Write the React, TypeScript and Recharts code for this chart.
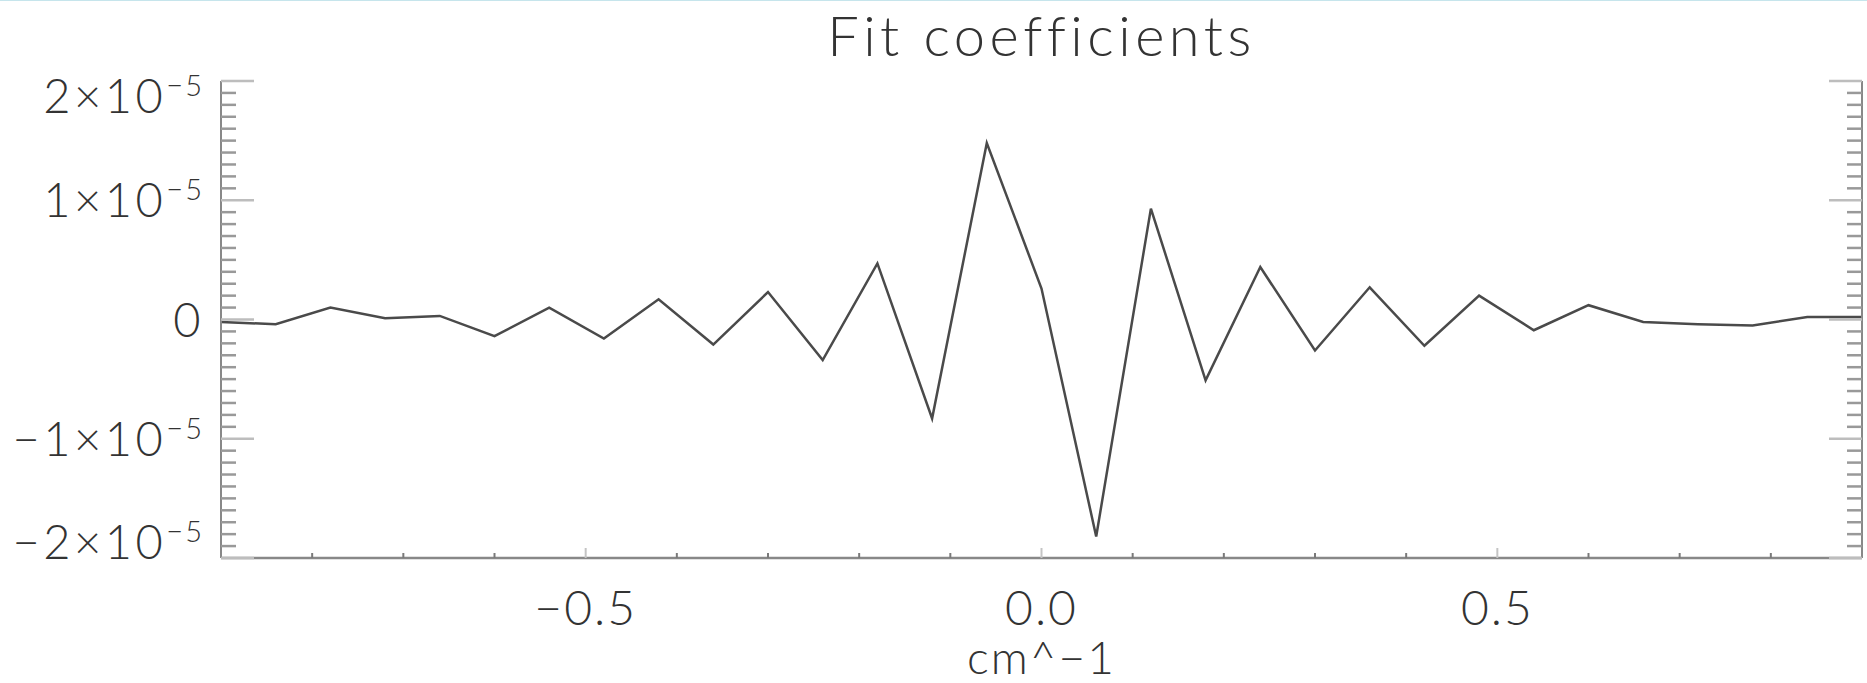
import { LineChart, Line, XAxis, YAxis } from "recharts";

const wavenumbers = [
  -0.9, -0.84, -0.78, -0.72, -0.66, -0.6, -0.54, -0.48, -0.42, -0.36, -0.3, -0.24, -0.18, -0.12, -0.06, 0,
  0.06, 0.12, 0.18, 0.24, 0.3, 0.36, 0.42, 0.48, 0.54, 0.6, 0.66, 0.72, 0.78, 0.84, 0.9,
];
const coefficients = [
  -0.02e-5, -0.04e-5, 0.1e-5, 0.01e-5, 0.03e-5, -0.14e-5, 0.1e-5, -0.16e-5, 0.17e-5, -0.21e-5, 0.23e-5,
  -0.34e-5, 0.47e-5, -0.83e-5, 1.48e-5, 0.26e-5, -1.82e-5, 0.93e-5, -0.51e-5, 0.44e-5, -0.26e-5, 0.27e-5,
  -0.22e-5, 0.2e-5, -0.09e-5, 0.12e-5, -0.02e-5, -0.04e-5, -0.05e-5, 0.02e-5, 0.02e-5,
];

const xTicks = [-0.8, -0.7, -0.6, -0.5, -0.4, -0.3, -0.2, -0.1, 0, 0.1, 0.2, 0.3, 0.4, 0.5, 0.6, 0.7, 0.8];
const xMajorTicks = [-0.5, 0, 0.5];
const xTickLabels = ["\u22120.5", "0.0", "0.5"];
const yMajorTicks = [-2e-5, -1e-5, 0, 1e-5, 2e-5];
const yTickLabels = ["\u22122\u00d710", "\u22121\u00d710", "0", "1\u00d710", "2\u00d710"];
// minor ticks every 1e-6
const yTicks = Array.from({ length: 41 }, (_, i) => (i - 20) / 1e6);

const data = wavenumbers.map((x, i) => ({ x, c: coefficients[i] }));

const W = 1867;
const H = 683;
const LEFT = 221;
const RIGHT = 1862;
const TOP = 81;
const BOTTOM = 557;
const FONT = "Lato, 'Liberation Sans', sans-serif";
const AXIS = "#888";

const isMajorX = (v: number) => xMajorTicks.some((m) => Math.abs(m - v) < 1e-9);
const isMajorY = (v: number) => Math.round(v * 1e6) % 10 === 0;

function BottomTick({ x, payload }: any) {
  const v = payload.value;
  const major = isMajorX(v);
  const idx = xMajorTicks.findIndex((m) => Math.abs(m - v) < 1e-9);
  return (
    <g>
      <line x1={x} x2={x} y1={BOTTOM} y2={BOTTOM - (major ? 10 : 5)} stroke={major ? "#c4c4c4" : "#7a7a7a"} strokeWidth={2} />
      {major && (
        <text x={x} y={624} textAnchor="middle" fontFamily={FONT} fontWeight={300} fontSize={48} fill="#333" letterSpacing={2}>
          {xTickLabels[idx]}
        </text>
      )}
    </g>
  );
}

function TopTick({ x, payload }: any) {
  const major = isMajorX(payload.value);
  return <line x1={x} x2={x} y1={TOP} y2={TOP + (major ? 10 : 5)} stroke={major ? "#c4c4c4" : "#7a7a7a"} strokeWidth={2} />;
}

function LeftTick({ y, payload }: any) {
  const v = payload.value;
  const major = isMajorY(v);
  const idx = yMajorTicks.findIndex((m) => Math.abs(m - v) < 1e-9);
  let base = y + 17;
  if (idx === yMajorTicks.length - 1) base = y + 32;
  if (idx === 0) base = y + 1;
  const label = idx >= 0 ? yTickLabels[idx] : null;
  return (
    <g>
      <line x1={LEFT} x2={LEFT + (major ? 33 : 15)} y1={y} y2={y} stroke={major ? "#bdbdbd" : "#999"} strokeWidth={2.5} />
      {label !== null && (
        <text x={204} y={base} textAnchor="end" fontFamily={FONT} fontWeight={300} fontSize={47} fill="#333" letterSpacing={3.5}>
          {label}
          {label !== "0" && (
            <tspan dy={-17} fontSize={29} letterSpacing={2}>
              {"\u22125"}
            </tspan>
          )}
        </text>
      )}
    </g>
  );
}

function RightTick({ y, payload }: any) {
  const major = isMajorY(payload.value);
  return <line x1={RIGHT} x2={RIGHT - (major ? 33 : 15)} y1={y} y2={y} stroke={major ? "#bdbdbd" : "#999"} strokeWidth={2.5} />;
}

export default function App() {
  return (
    <div style={{ position: "absolute", left: 0, top: 0, width: W, height: H, background: "#fff", borderTop: "1px solid #c6e5ec", boxSizing: "border-box" }}>
      <LineChart width={W} height={H - 1} data={data} margin={{ top: TOP - 1, right: 0, bottom: 0, left: 0 }}>
        <XAxis xAxisId="b" dataKey="x" type="number" domain={[-0.9, 0.9]} ticks={xTicks} interval={0} height={H - BOTTOM - 1}
          axisLine={{ stroke: AXIS, strokeWidth: 2.5 }} tickLine={false} tick={<BottomTick />} allowDataOverflow />
        <XAxis xAxisId="t" orientation="top" dataKey="x" type="number" domain={[-0.9, 0.9]} ticks={xTicks} interval={0} height={0}
          axisLine={{ stroke: AXIS, strokeWidth: 2.5 }} tickLine={false} tick={<TopTick />} allowDataOverflow />
        <YAxis yAxisId="l" type="number" domain={[-2e-5, 2e-5]} ticks={yTicks} interval={0} width={LEFT}
          axisLine={{ stroke: AXIS, strokeWidth: 2 }} tickLine={false} tick={<LeftTick />} allowDataOverflow />
        <YAxis yAxisId="r" orientation="right" type="number" domain={[-2e-5, 2e-5]} ticks={yTicks} interval={0} width={W - RIGHT}
          axisLine={{ stroke: AXIS, strokeWidth: 2 }} tickLine={false} tick={<RightTick />} allowDataOverflow />
        <Line xAxisId="b" yAxisId="l" type="linear" dataKey="c" stroke="#4a4a4a" strokeWidth={2.5} dot={false} isAnimationActive={false} />
        <Line xAxisId="t" yAxisId="r" type="linear" dataKey="c" stroke="none" dot={false} isAnimationActive={false} legendType="none" />
        <text x={(LEFT + RIGHT) / 2} y={55} textAnchor="middle" fontFamily={FONT} fontWeight={300} fontSize={56} fill="#333" letterSpacing={4.5}>
          Fit  coefficients
        </text>
        <text x={(LEFT + RIGHT) / 2} y={673} textAnchor="middle" fontFamily={FONT} fontWeight={300} fontSize={46} fill="#333" letterSpacing={2}>
          cm^{"\u2212"}1
        </text>
      </LineChart>
    </div>
  );
}
